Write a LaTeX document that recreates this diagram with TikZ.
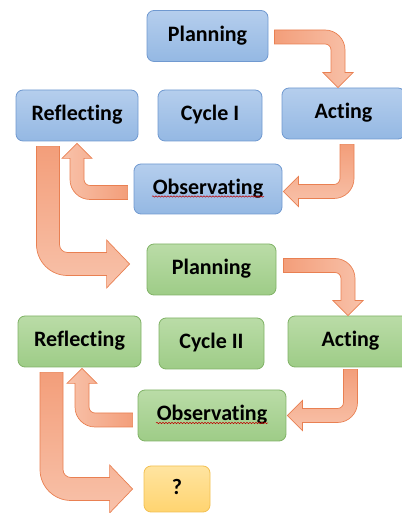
\documentclass[tikz,border=0pt]{standalone}
\usepackage{fontspec}
\setmainfont{Carlito}[Ligatures=NoCommon]
\usetikzlibrary{calc,decorations.pathmorphing}

\definecolor{bluetop}{RGB}{181,206,237}
\definecolor{bluebot}{RGB}{148,184,227}
\definecolor{blueline}{RGB}{112,153,208}
\definecolor{greentop}{RGB}{186,220,167}
\definecolor{greenbot}{RGB}{158,204,135}
\definecolor{greenline}{RGB}{128,178,102}
\definecolor{yellowtop}{RGB}{255,228,160}
\definecolor{yellowbot}{RGB}{255,212,112}
\definecolor{yellowline}{RGB}{242,192,82}
\definecolor{ardark}{RGB}{243,158,122}
\definecolor{arlight}{RGB}{248,194,170}
\definecolor{arline}{RGB}{233,128,82}

% bent block arrow: #1 options, #2 tail, #3 tip, #4 -| or |-
\newcommand{\bentarrow}[4]{%
  \coordinate (ba-t) at #2;
  \coordinate (ba-p) at #3;
  \coordinate (ba-c) at (ba-t #4 ba-p);
  \shade[barrow,#1] ($(ba-t)+(0,\aw)$) -- ($(ba-c)+(\aw-\aR,\aw)$)
    arc[start angle=90,end angle=0,radius=\aR] -- ($(ba-p)+(\aw,\al)$)
    -- ($(ba-p)+(\ah,\al)$) -- (ba-p) -- ($(ba-p)+(-\ah,\al)$)
    -- ($(ba-p)+(-\aw,\al)$) -- ($(ba-c)+(-\aw,-\aw-\ar)$)
    arc[start angle=0,end angle=90,radius=\ar] -- ($(ba-t)+(0,-\aw)$) -- cycle;
}

\begin{document}
\begin{tikzpicture}[
    x=1pt, y=1pt,
    font=\bfseries\fontsize{22}{26}\selectfont,
    box/.style={
        rounded corners=7pt,
        line width=0.8pt,
        inner sep=0pt,
        minimum height=51pt,
        text height=15.5pt,
        text depth=4.5pt
    },
    bluebox/.style={box, draw=blueline, top color=bluetop, bottom color=bluebot},
    greenbox/.style={box, draw=greenline, top color=greentop, bottom color=greenbot},
    yellowbox/.style={box, draw=yellowline, top color=yellowtop, bottom color=yellowbot},
    barrow/.style={draw=arline, line width=0.7pt},
    slimarrow/.code={\def\aw{7}\def\ah{15}\def\al{15}\def\ar{6}\def\aR{20}},
    widearrow/.code={\def\aw{11.5}\def\ah{24}\def\al{23}\def\ar{8}\def\aR{31}},
    squig/.style={draw=red!75!black, line width=0.5pt,
        decorate, decoration={snake, amplitude=0.7pt, segment length=3pt}}
]
\useasboundingbox (0,0) rectangle (401,513);

% cycle I
\node[bluebox, minimum width=121pt] (plan1) at (207.5,477) {Planning};
\node[bluebox, minimum width=122pt] (refl1) at (77,397.5) {Reflecting};
\node[bluebox, minimum width=104pt] (cyc1) at (210,397.5) {Cycle I};
\node[bluebox, minimum width=123pt] (act1) at (343.5,399.5) {Acting};
\node[bluebox, minimum width=148pt, minimum height=50pt] (obs1) at (208,324) {Observating};

% cycle II
\node[greenbox, minimum width=129pt] (plan2) at (211.5,243.5) {Planning};
\node[greenbox, minimum width=123pt] (refl2) at (79.5,171.5) {Reflecting};
\node[greenbox, minimum width=105pt] (cyc2) at (211.5,169.5) {Cycle II};
\node[greenbox, minimum width=125pt] (act2) at (350.5,171.5) {Acting};
\node[greenbox, minimum width=148pt] (obs2) at (212,97.5) {Observating};

\node[yellowbox, minimum width=66pt, minimum height=46pt] (next) at (177,24) {?};

\draw[squig] ($(obs1.center)+(-56,-7.5)$) -- ($(obs1.center)+(56,-7.5)$);
\draw[squig] ($(obs2.center)+(-56,-7.5)$) -- ($(obs2.center)+(56,-7.5)$);

% arrows, cycle I
\bentarrow{slimarrow, left color=ardark, right color=arlight}
  {($(plan1.east)+(6,-1)$)}{($(act1.north)+(-5.5,0)$)}{-|}
\bentarrow{slimarrow, rotate=-90, top color=ardark, bottom color=arlight}
  {($(act1.south)+(3.5,-5)$)}{($(obs1.east)+(1,-2.5)$)}{|-}
\bentarrow{slimarrow, rotate=180, left color=arlight, right color=ardark}
  {($(obs1.west)+(-6,-3.5)$)}{($(refl1.south)+(0,-2)$)}{-|}
\bentarrow{widearrow, rotate=90, xscale=-1, top color=ardark, bottom color=arlight}
  {($(refl1.south)+(-29,-5)$)}{($(plan2.west)+(-17,5.5)$)}{|-}

% arrows, cycle II
\bentarrow{slimarrow, left color=ardark, right color=arlight}
  {($(plan2.east)+(7,4)$)}{($(act2.north)+(-2.5,0)$)}{-|}
\bentarrow{slimarrow, rotate=-90, top color=ardark, bottom color=arlight}
  {($(act2.south)+(0,-2)$)}{($(obs2.east)+(1,0)$)}{|-}
\bentarrow{slimarrow, rotate=180, left color=arlight, right color=ardark}
  {($(obs2.west)+(-5,-4.5)$)}{($(refl2.south)+(2.5,-1)$)}{-|}
\bentarrow{widearrow, rotate=90, xscale=-1, top color=ardark, bottom color=arlight}
  {($(refl2.south)+(-28,-5)$)}{($(next.west)+(-11,0)$)}{|-}

\end{tikzpicture}
\end{document}
